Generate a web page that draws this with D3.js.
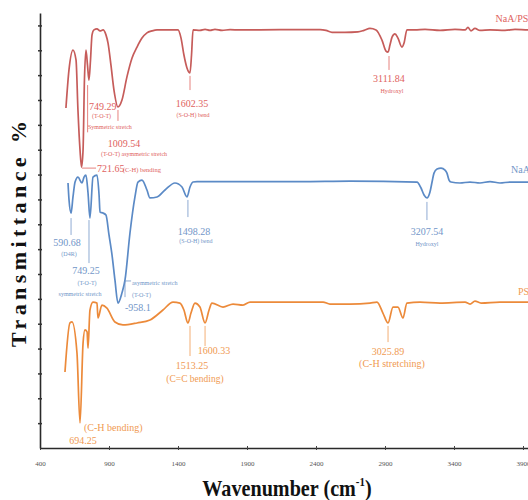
<!DOCTYPE html>
<html>
<head>
<meta charset="utf-8">
<script src="https://cdn.jsdelivr.net/npm/d3@7"></script>
<style>
  body { margin: 0; background: #fff; }
  svg { display: block; font-family: "Liberation Serif", "Times New Roman", serif; }
</style>
</head>
<body>
<div id="chart"></div>
<script>
// spectra: [wavenumber, transmittance (arbitrary offset units)]
const naapsSpectrum = [[588,13.68],[610,15.21],[639,16.01],[661,15.61],[675,13.60],[690,11.99],[701,11.30],[712,11.99],[722,14.80],[733,16.01],[744,15.41],[755,14.80],[766,15.61],[777,16.62],[791,16.82],[813,16.86],[835,16.78],[857,16.82],[878,16.62],[893,16.29],[914,15.41],[936,14.40],[965,13.72],[994,14.00],[1030,14.93],[1067,15.69],[1103,16.13],[1139,16.49],[1175,16.70],[1212,16.78],[1248,16.82],[1400,16.82],[1422,16.49],[1443,15.81],[1465,15.29],[1487,15.09],[1498,15.81],[1509,16.82],[1559,16.80],[1596,16.84],[1632,16.80],[1668,16.84],[1719,16.80],[1777,16.83],[1849,16.82],[2139,16.83],[2429,16.83],[2472,16.80],[2516,16.72],[2610,16.72],[2704,16.74],[2748,16.80],[2791,16.88],[2835,16.82],[2878,16.41],[2907,15.97],[2922,15.93],[2936,16.21],[2951,16.53],[2972,16.66],[2994,16.49],[3023,16.13],[3038,16.29],[3059,16.82],[3117,16.82],[3190,16.84],[3299,16.80],[3407,16.84],[3480,16.82],[3501,16.92],[3523,16.78],[3552,16.88],[3588,16.80],[3661,16.82],[3770,16.80],[3842,16.84],[3936,16.82],[4023,16.82]];

const naaSpectrum = [[603,10.66],[610,10.0],[625,9.45],[639,10.10],[654,10.70],[675,10.90],[704,10.66],[719,10.90],[733,10.98],[748,10.26],[762,9.25],[784,10.90],[813,10.98],[828,10.18],[835,9.49],[857,9.45],[878,9.37],[900,8.57],[922,7.76],[943,6.76],[965,5.83],[994,6.24],[1016,6.76],[1052,8.65],[1088,10.10],[1110,10.70],[1139,10.78],[1175,10.38],[1197,10.06],[1248,10.10],[1306,10.38],[1378,10.66],[1429,10.50],[1465,10.10],[1487,10.50],[1509,10.70],[1538,10.72],[1922,10.72],[2284,10.72],[2646,10.74],[3132,10.70],[3161,10.46],[3183,10.18],[3204,10.06],[3226,10.30],[3241,10.70],[3255,11.06],[3277,11.22],[3306,11.26],[3335,11.18],[3349,11.06],[3364,10.78],[3378,10.70],[3443,10.66],[3516,10.70],[3588,10.66],[3661,10.72],[3733,10.66],[3806,10.70],[3936,10.70],[4023,10.70]];

const psSpectrum = [[581,3.06],[617,5.03],[632,5.07],[668,3.82],[690,1.01],[712,4.22],[726,4.75],[741,4.67],[748,4.02],[762,5.55],[784,5.87],[813,5.83],[820,5.23],[849,5.75],[885,5.63],[943,5.07],[1001,4.95],[1103,5.03],[1197,5.15],[1291,5.55],[1364,5.87],[1414,5.83],[1443,5.55],[1472,5.03],[1494,5.43],[1523,5.83],[1559,5.67],[1596,5.03],[1625,5.55],[1646,5.83],[1726,5.67],[1799,5.79],[1871,5.75],[1922,5.87],[2212,5.87],[2451,5.87],[2501,5.79],[2646,5.79],[2791,5.83],[2842,5.87],[2885,5.43],[2922,5.03],[2958,5.67],[2994,5.67],[3030,5.23],[3059,5.83],[3154,5.87],[3299,5.83],[3480,5.87],[3516,5.79],[3552,5.91],[3596,5.83],[3733,5.87],[3936,5.87],[4023,5.87]];

const seriesNames = ['NaA/PS', 'NaA', 'PS'];
const xTicks = [400, 900, 1400, 1900, 2400, 2900, 3400, 3900];
const yTicks = [1,2,3,4,5,6,7,8,9,10,11,12,13,14,15,16,17];

// peak markers: [series, wavenumber, from, to]
const markers = [
  [0, 745, 14.6, 12.7], [0, 965, 13.60, 13.16], [0, 1487, 14.97, 14.40], [0, 2929, 15.77, 15.21],
  [1, 625, 9.25, 8.57], [1, 755, 9.17, 7.44], [1, 1016, 6.72, 6.07], [1, 1472, 9.98, 9.29], [1, 3204, 9.90, 9.17],
  [2, 1487, 4.91, 3.70], [2, 1596, 4.91, 4.10], [2, 2922, 4.91, 4.26]
];
// horizontal connectors: [series, w1, w2, t]
const connectors = [[0, 704, 806, 11.26], [1, 1016, 1060, 6.72]];

// labels: [series, wavenumber, transmittance, text, size, anchor]
const peakLabels = [
  [0, 755, 13.6, '749.29', 10, 'start'], [0, 777, 13.28, '(T-O-T)', 6, 'start'], [0, 748, 12.83, 'Symmetric stretch', 6, 'start'],
  [0, 1009, 12.11, '1009.54', 10, 'middle'], [0, 842, 11.75, '(T-O-T) asymmetric stretch', 6, 'start'],
  [0, 813, 11.10, '721.65', 10, 'start'], [0, 1000, 11.10, '(C-H) bending', 6.5, 'start'],
  [0, 1501, 13.72, '1602.35', 10, 'middle'], [0, 1509, 13.32, '(S-O-H) bend', 6, 'middle'],
  [0, 2929, 14.72, '3111.84', 10, 'middle'], [0, 2951, 14.28, 'Hydroxyl', 6, 'middle'],
  [1, 596, 8.13, '590.68', 10, 'middle'], [1, 610, 7.72, '(D4R)', 6, 'middle'],
  [1, 733, 7.0, '749.25', 10, 'middle'], [1, 741, 6.56, '(T-O-T)', 6, 'middle'], [1, 690, 6.11, 'symmetric stretch', 6, 'middle'],
  [1, 1066, 6.56, 'asymmetric stretch', 6, 'start'], [1, 1066, 6.07, '(T-O-T)', 6, 'start'], [1, 1016, 5.51, '-958.1', 10, 'start'],
  [1, 1516, 8.57, '1498.28', 10, 'middle'], [1, 1530, 8.25, '(S-O-H) bend', 6, 'middle'],
  [1, 3204, 8.57, '3207.54', 10, 'middle'], [1, 3204, 8.13, 'Hydroxyl', 6, 'middle'],
  [2, 719, 0.68, '(C-H bending)', 10, 'start'], [2, 712, 0.16, '694.25', 10, 'middle'],
  [2, 1501, 3.18, '1513.25', 10, 'middle'], [2, 1523, 2.66, '(C=C bending)', 9.5, 'middle'],
  [2, 1661, 3.78, '1600.33', 10, 'middle'],
  [2, 2922, 3.74, '3025.89', 10, 'middle'], [2, 2951, 3.26, '(C-H stretching)', 10, 'middle']
];
// series name positions near right edge: [wavenumber, transmittance]
const namePos = [[3701, 17.14], [3813, 11.06], [3864, 6.16]];

const lineColors = ['#c65c5a', '#5b8ac6', '#ec8a3a'];
const textColors = ['#e0625e', '#7296c8', '#f09a52'];

const w = 528, h = 500;
const svg = d3.select('#chart').append('svg').attr('width', w).attr('height', h);

const x = d3.scaleLinear().domain([400, 4000]).range([40, 536.8]);
const y = d3.scaleLinear().domain([0, 17.5]).range([448, 13]);

// axes
const xAxis = d3.axisBottom(x).tickValues(xTicks).tickFormat(d3.format('d')).tickSizeOuter(0).tickSizeInner(2);
const gx = svg.append('g').attr('transform', 'translate(0,448)').call(xAxis);
gx.select('.domain').attr('stroke', '#2a2a2a').attr('stroke-width', 1.6);
gx.selectAll('.tick line').attr('y1', -2).attr('y2', 2).attr('stroke', '#444');
gx.selectAll('.tick text').attr('y', 13).attr('fill', '#555')
  .style('font-family', '"Liberation Serif", serif').style('font-size', '7px');

const yAxis = d3.axisLeft(y).tickValues(yTicks).tickFormat('').tickSizeOuter(0).tickSizeInner(2);
const gy = svg.append('g').attr('transform', 'translate(40,0)').call(yAxis);
gy.select('.domain').attr('stroke', '#2a2a2a').attr('stroke-width', 1.6);
gy.selectAll('.tick line').attr('x1', -2).attr('x2', 2).attr('stroke', '#333').attr('stroke-width', 1.5);

// spectra
const line = d3.line().x(d => x(d[0])).y(d => y(d[1])).curve(d3.curveMonotoneX);
[naapsSpectrum, naaSpectrum, psSpectrum].forEach((s, i) => {
  svg.append('path').datum(s)
    .attr('d', line)
    .attr('fill', 'none')
    .attr('stroke', lineColors[i])
    .attr('stroke-width', 1.7);
});

// peak markers
svg.selectAll('line.marker').data(markers).enter().append('line')
  .attr('class', 'marker')
  .attr('x1', d => x(d[1])).attr('x2', d => x(d[1]))
  .attr('y1', d => y(d[2])).attr('y2', d => y(d[3]))
  .attr('stroke', d => textColors[d[0]]).attr('stroke-width', 0.8);

svg.selectAll('line.conn').data(connectors).enter().append('line')
  .attr('class', 'conn')
  .attr('x1', d => x(d[1])).attr('x2', d => x(d[2]))
  .attr('y1', d => y(d[3])).attr('y2', d => y(d[3]))
  .attr('stroke', d => textColors[d[0]]).attr('stroke-width', 0.8);

svg.selectAll('text.peak').data(peakLabels).enter().append('text')
  .attr('class', 'peak')
  .attr('x', d => x(d[1])).attr('y', d => y(d[2]))
  .attr('text-anchor', d => d[5])
  .attr('fill', d => textColors[d[0]])
  .style('font-size', d => d[4] + 'px')
  .text(d => d[3]);

// series names
svg.selectAll('text.name').data(seriesNames).enter().append('text')
  .attr('class', 'name')
  .attr('x', (d, i) => x(namePos[i][0])).attr('y', (d, i) => y(namePos[i][1]))
  .attr('fill', (d, i) => textColors[i])
  .style('font-size', '10px')
  .text(d => d);

// axis titles
svg.append('text')
  .attr('transform', 'translate(26,234) rotate(-90)')
  .attr('text-anchor', 'middle')
  .attr('textLength', 226).attr('lengthAdjust', 'spacing')
  .style('font-size', '22px').style('font-weight', 'bold').attr('fill', '#111')
  .text('Transmittance %');

const xt = svg.append('text')
  .attr('transform', 'translate(287,496) scale(0.84,1)')
  .attr('text-anchor', 'middle')
  .style('font-size', '24px').style('font-weight', 'bold').attr('fill', '#111');
xt.append('tspan').text('Wavenumber (cm');
xt.append('tspan').attr('dy', -10).style('font-size', '13px').text('-1');
xt.append('tspan').attr('dy', 10).text(')');
</script>
</body>
</html>
